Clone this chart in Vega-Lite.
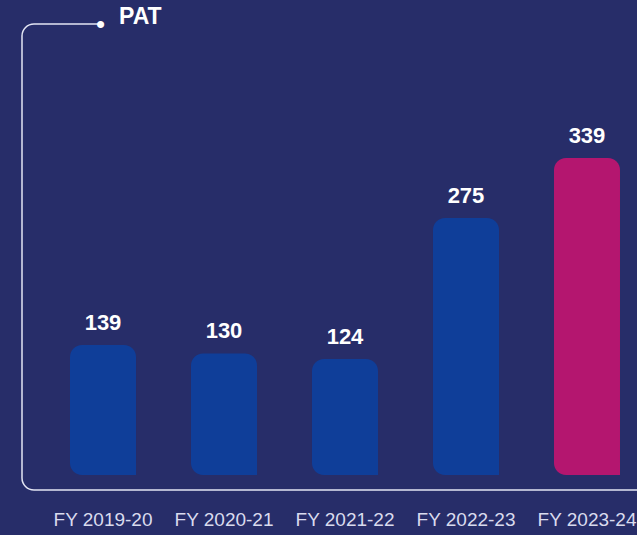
{
  "$schema": "https://vega.github.io/schema/vega-lite/v6.json",
  "width": 646,
  "height": 466,
  "autosize": {"type": "none"},
  "padding": {"left": 22, "top": 24, "right": -31, "bottom": 45},
  "background": "#272d69",
  "view": {"stroke": "#e3e5f3", "strokeWidth": 1.5, "cornerRadius": 12, "strokeDash": [66, 900, 3000], "fill": null},
  "title": {"text": "PAT", "anchor": "start", "frame": "group", "dx": 97, "dy": 36, "offset": 0, "baseline": "alphabetic", "color": "#ffffff", "font": "Liberation Sans", "fontSize": 23, "fontWeight": "bold"},
  "data": {"values": [
    {"year": "FY 2019-20", "pat": 139},
    {"year": "FY 2020-21", "pat": 130},
    {"year": "FY 2021-22", "pat": 124},
    {"year": "FY 2022-23", "pat": 275},
    {"year": "FY 2023-24", "pat": 339}
  ]},
  "encoding": {
    "x": {"field": "year", "type": "nominal", "sort": null,
      "scale": {"paddingInner": 0.4545, "paddingOuter": 0.3967},
      "axis": {"title": null, "domain": false, "ticks": false, "tickSize": 0, "labelAngle": 0, "labelPadding": 35, "labelBaseline": "alphabetic", "labelFont": "Liberation Sans", "labelFontSize": 19, "labelColor": "#d9dbee"}},
    "y": {"field": "pat", "type": "quantitative",
      "scale": {"domain": [-16, 482.4], "nice": false, "zero": false},
      "axis": {"title": null, "domain": false, "ticks": false, "tickSize": 0, "grid": false, "values": [482.4], "labelExpr": "'•'", "labelPadding": -78, "labelAlign": "center", "labelBaseline": "middle", "labelFont": "Liberation Sans", "labelFontSize": 26, "labelColor": "#ffffff"}}
  },
  "layer": [
    {"mark": {"type": "bar", "cornerRadiusTopLeft": 12, "cornerRadiusTopRight": 12, "cornerRadiusBottomLeft": 12, "cornerRadiusBottomRight": 0},
     "encoding": {
       "y2": {"datum": 0},
       "color": {"field": "year", "type": "nominal", "sort": null, "legend": null,
         "scale": {"domain": ["FY 2019-20", "FY 2020-21", "FY 2021-22", "FY 2022-23", "FY 2023-24"], "range": ["#0f3e99", "#0f3e99", "#0f3e99", "#0f3e99", "#b4166f"]}}
     }},
    {"mark": {"type": "text", "dy": -15, "baseline": "alphabetic", "align": "center", "font": "Liberation Sans", "fontSize": 22, "fontWeight": "bold", "color": "#ffffff"},
     "encoding": {"text": {"field": "pat", "type": "quantitative"}}}
  ]
}
